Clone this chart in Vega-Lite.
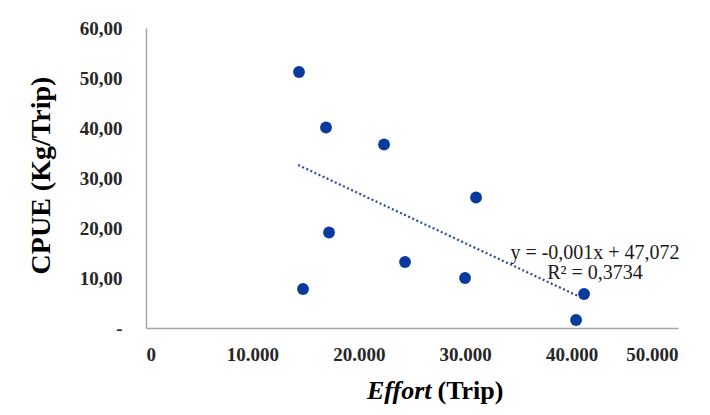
{
  "$schema": "https://vega.github.io/schema/vega-lite/v6.json",
  "width": 532,
  "height": 300,
  "autosize": "none",
  "padding": {"left": 146, "top": 28, "right": 32, "bottom": 87},
  "background": "white",
  "config": {"view": {"stroke": null}, "font": "Liberation Serif"},
  "datasets": {
    "points": [
      {"effort": 14382, "cpue": 51.2},
      {"effort": 16920, "cpue": 40.1},
      {"effort": 22372, "cpue": 36.7},
      {"effort": 31020, "cpue": 26.1},
      {"effort": 17202, "cpue": 19.1},
      {"effort": 14758, "cpue": 7.8},
      {"effort": 24346, "cpue": 13.2},
      {"effort": 29986, "cpue": 10.0},
      {"effort": 41172, "cpue": 6.8},
      {"effort": 40420, "cpue": 1.6}
    ],
    "trend": [
      {"effort": 14300, "cpue": 32.6},
      {"effort": 40900, "cpue": 6.1}
    ]
  },
  "resolve": {"scale": {"x": "independent"}, "axis": {"x": "independent"}},
  "layer": [
    {
      "data": {"name": "points"},
      "mark": {"type": "point", "filled": true, "shape": "circle", "size": 140, "color": "#0b3a9f", "opacity": 1},
      "encoding": {
        "x": {
          "field": "effort", "type": "quantitative",
          "scale": {"domain": [0, 50000], "nice": false},
          "axis": {
            "orient": "bottom",
            "values": [0, 10000, 20000, 30000, 40000, 50000],
            "labelExpr": "replace(format(datum.value, ',d'), ',', '.')",
            "grid": false, "ticks": false,
            "domainColor": "#a6a6a6", "domainWidth": 1.5,
            "labelFont": "Liberation Serif", "labelFontWeight": "bold", "labelFontSize": 19,
            "labelColor": "#262626", "labelPadding": 17,
            "title": "Effort", "titleFont": "Liberation Serif", "titleFontStyle": "italic",
            "titleFontWeight": "bold", "titleFontSize": 26, "titleColor": "#000000",
            "titleAlign": "right", "titleBaseline": "middle", "titleX": 285, "titleY": 62
          }
        },
        "y": {
          "field": "cpue", "type": "quantitative",
          "scale": {"domain": [0, 60], "nice": false},
          "axis": {
            "values": [0, 10, 20, 30, 40, 50, 60],
            "labelExpr": "datum.value == 0 ? '-' : replace(format(datum.value, '.2f'), '.', ',')",
            "grid": false, "ticks": false,
            "domainColor": "#a6a6a6", "domainWidth": 1.5,
            "labelFont": "Liberation Serif", "labelFontWeight": "bold", "labelFontSize": 19,
            "labelColor": "#262626", "labelPadding": 24,
            "title": "CPUE (Kg/Trip)", "titleFont": "Liberation Serif", "titleFontWeight": "bold",
            "titleFontSize": 28, "titleColor": "#000000", "titleAngle": -90,
            "titleAlign": "center", "titleBaseline": "middle", "titleX": -105, "titleY": 147
          }
        }
      }
    },
    {
      "data": {"name": "trend"},
      "mark": {"type": "line", "strokeDash": [2, 2.5], "strokeWidth": 2.2, "color": "#2a4a9a"},
      "encoding": {
        "x": {
          "field": "effort", "type": "quantitative",
          "scale": {"domain": [0, 50000], "nice": false},
          "axis": {
            "orient": "bottom",
            "labels": false, "ticks": false, "domain": false, "grid": false,
            "title": "(Trip)", "titleFont": "Liberation Serif", "titleFontWeight": "bold",
            "titleFontSize": 26, "titleColor": "#000000",
            "titleAlign": "left", "titleBaseline": "middle", "titleX": 291, "titleY": 62
          }
        },
        "y": {"field": "cpue", "type": "quantitative"}
      }
    },
    {
      "data": {"values": [{}]},
      "mark": {
        "type": "text",
        "text": ["y = -0,001x + 47,072", "R² = 0,3734"],
        "font": "Liberation Serif", "fontSize": 20, "lineHeight": 20,
        "align": "center", "baseline": "middle", "color": "#1a1a1a"
      },
      "encoding": {
        "x": {"datum": 42200, "type": "quantitative", "scale": {"domain": [0, 50000], "nice": false}, "axis": null},
        "y": {"datum": 15.0, "type": "quantitative"}
      }
    }
  ]
}
